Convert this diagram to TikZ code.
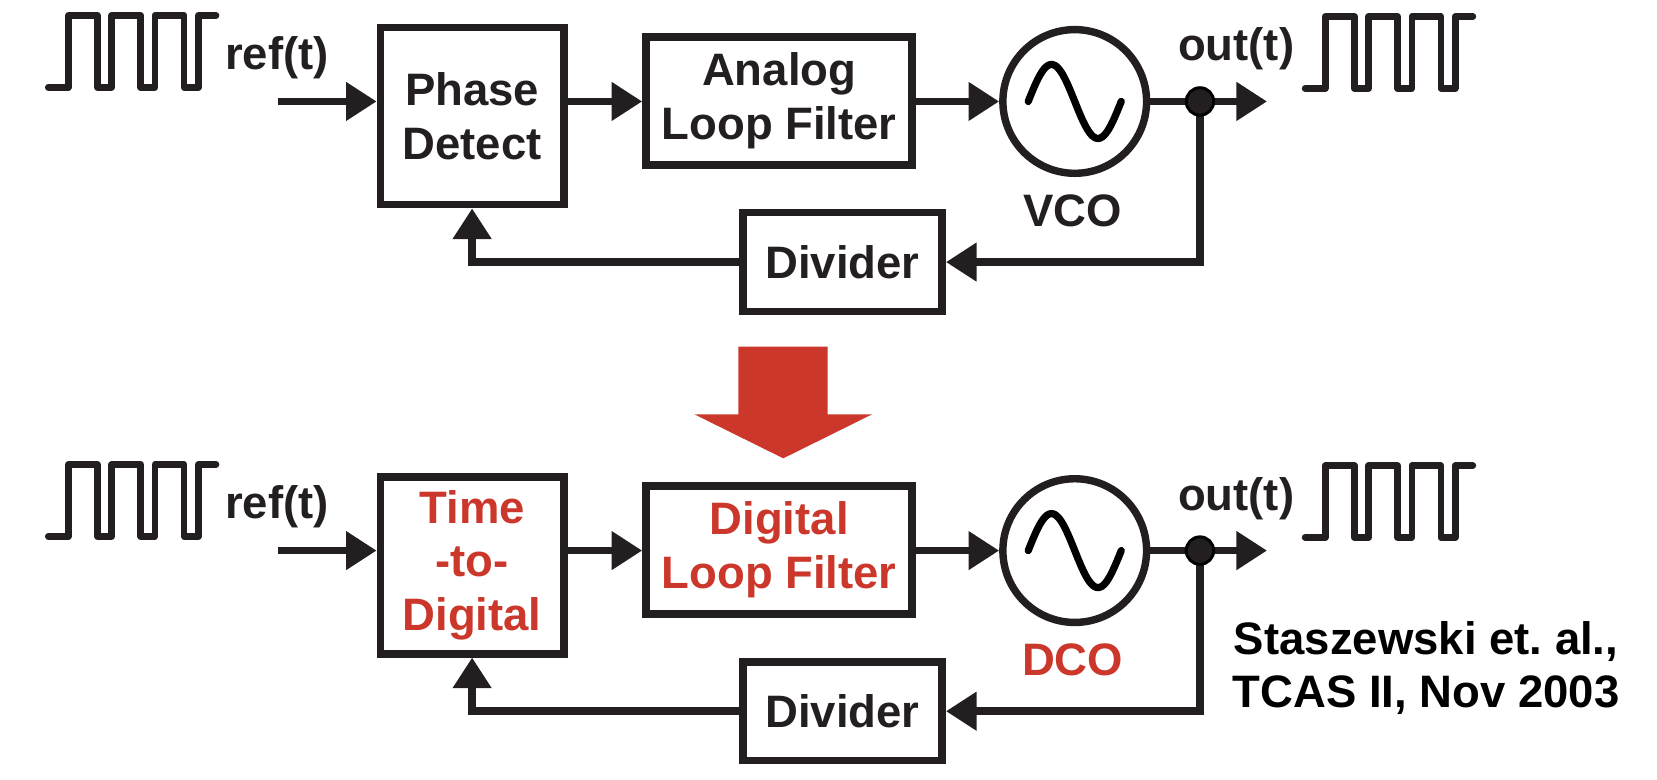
\documentclass[tikz,border=0pt]{standalone}
\usepackage{fontspec}
\setmainfont{Liberation Sans}
\usepackage{tikz}
\usetikzlibrary{positioning, arrows.meta}
\usepackage{xcolor}
\definecolor{ink}{RGB}{35,31,32}
\definecolor{pllred}{RGB}{203,55,42}
\frenchspacing

\tikzset{
  blk/.style={draw=ink, line width=4.1pt, text=ink, align=center, inner sep=0pt},
  osc/.style={circle, draw=ink, line width=4pt, minimum size=2.72cm, inner sep=0pt},
  lbl/.style={text=ink, inner sep=0pt},
  sig/.style={draw=ink, line width=4.2pt, -{Triangle[length=0.58cm,width=0.7cm]}},
  tapdot/.style={circle, fill=ink, draw=black, line width=1.6pt, minimum size=0.52cm, inner sep=0pt},
  wave/.style={draw=ink, line width=3.6pt, line cap=round, line join=round},
  sinew/.style={draw=black, line width=3.9pt, line cap=round},
  clk/.pic={
    \draw[wave] (0,0) -| (19,-68) -| (46.5,0) -| (60,-68) -| (87.5,0)
      -| (101,-68) -| (128.5,0) -| (142,-68) -- (158.7,-68);
  }
}

\begin{document}
\begin{tikzpicture}[x=0.02cm, y=-0.02cm,
    font=\bfseries\fontsize{24.5}{28.8}\selectfont]
  \useasboundingbox (0,0) rectangle (1568,738);

  % ---- analog PLL (top row)
  \pic at (45.7,82.6) {clk};
  \pic at (1235,83.6) {clk};
  \node[lbl, anchor=base] (reftop) at (262,65.6) {ref(t)};
  \node[lbl, anchor=base] (outtop) at (1169.7,57.7) {out(t)};

  \node[blk, minimum width=3.47cm, minimum height=3.35cm] (pd) at (446.75,109.85) {Phase\\Detect};
  \node[blk, minimum width=5.04cm, minimum height=2.42cm] (alf) at (737.3,95.4) {Analog\\Loop Filter};
  \node[osc] (vco) at (1017,96) {};
  \draw[sinew, shift={(vco.center)}] plot[domain=-44:44, samples=60] (\x, {35*sin(\x*180/44)});
  \node[lbl, anchor=base] (vcolbl) at (1015,214.5) {VCO};
  \node[blk, minimum width=3.77cm, minimum height=1.87cm] (divtop) at (797.3,248) {Divider};

  \coordinate (inA) at (263,96);
  \coordinate (tapA) at (1135.5,96);
  \coordinate (endA) at (1199,96);
  \draw[sig] (inA) -- (pd.west |- inA);
  \draw[sig] (pd.east |- vco) -- (alf.west |- vco);
  \draw[sig] (alf.east |- vco) -- (vco.west);
  \draw[sig] (vco.east) -- (endA);
  \draw[sig] (tapA) |- (divtop.east);
  \draw[sig] (divtop.west) -| (pd.south);
  \node[tapdot] (dotA) at (tapA) {};

  % ---- big arrow
  \fill[pllred] (698.7,328) -- (783.2,328) -- (783.2,392) -- (825.4,392)
    -- (741.2,433.7) -- (657,392) -- (698.7,392) -- cycle;

  % ---- all-digital PLL (bottom row)
  \pic at (45.7,507.6) {clk};
  \pic at (1235,508.6) {clk};
  \node[lbl, anchor=base] (refbot) at (262,490.6) {ref(t)};
  \node[lbl, anchor=base] (outbot) at (1169.7,482.7) {out(t)};

  \node[blk, text=pllred, minimum width=3.47cm, minimum height=3.35cm] (tdc) at (446.75,534.85) {Time\\-to-\\Digital};
  \node[blk, text=pllred, minimum width=5.04cm, minimum height=2.42cm] (dlf) at (737.3,520.4) {Digital\\Loop Filter};
  \node[osc] (dco) at (1017,521) {};
  \draw[sinew, shift={(dco.center)}] plot[domain=-44:44, samples=60] (\x, {35*sin(\x*180/44)});
  \node[lbl, text=pllred, anchor=base] (dcolbl) at (1015,639.5) {DCO};
  \node[blk, minimum width=3.77cm, minimum height=1.87cm] (divbot) at (797.3,673) {Divider};

  \coordinate (inB) at (263,521);
  \coordinate (tapB) at (1135.5,521);
  \coordinate (endB) at (1199,521);
  \draw[sig] (inB) -- (tdc.west |- inB);
  \draw[sig] (tdc.east |- dco) -- (dlf.west |- dco);
  \draw[sig] (dlf.east |- dco) -- (dco.west);
  \draw[sig] (dco.east) -- (endB);
  \draw[sig] (tapB) |- (divbot.east);
  \draw[sig] (divbot.west) -| (tdc.south);
  \node[tapdot] (dotB) at (tapB) {};

  % reference
  \node[text=black, align=center, inner sep=0pt] (cite) at (1349.5,632) {Staszewski et. al.,\\TCAS II, Nov 2003};
\end{tikzpicture}
\end{document}
